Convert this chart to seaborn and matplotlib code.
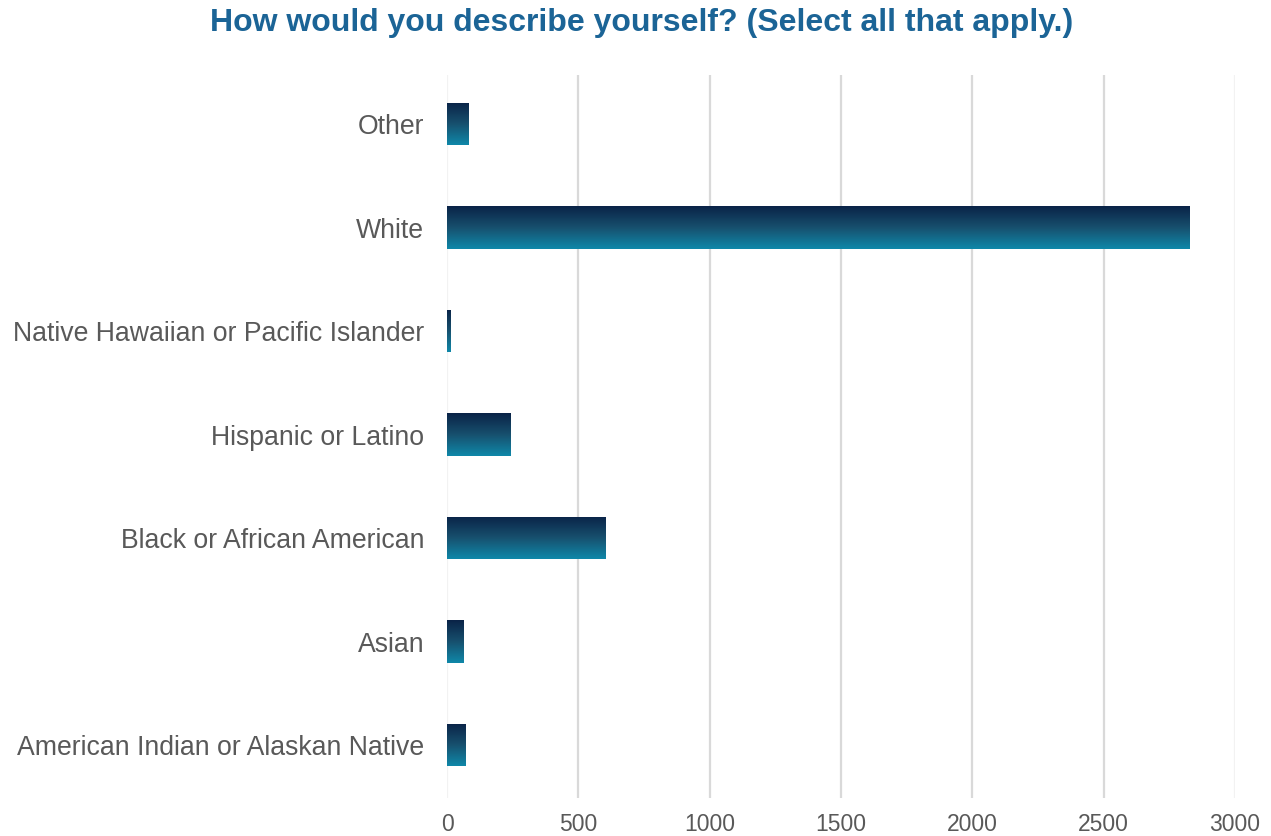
import numpy as np
import pandas as pd
import matplotlib
matplotlib.use("Agg")
import matplotlib.pyplot as plt
from matplotlib.colors import LinearSegmentedColormap
import seaborn as sns

categories = [
    "Other",
    "White",
    "Native Hawaiian or Pacific Islander",
    "Hispanic or Latino",
    "Black or African American",
    "Asian",
    "American Indian or Alaskan Native",
]
counts = [80, 2825, 15, 240, 602, 61, 69]
x_ticks = [0, 500, 1000, 1500, 2000, 2500, 3000]
title = "How would you describe yourself? (Select all that apply.)"

df = pd.DataFrame({"category": categories, "count": counts})

sns.set_theme(style="white")
plt.rcParams["font.family"] = ["Liberation Sans", "DejaVu Sans"]

fig = plt.figure(figsize=(12.71, 8.36), dpi=100)
ax = fig.add_axes([447 / 1271, 1 - 798 / 836, (1235 - 447) / 1271, (798 - 75) / 836])

sns.barplot(data=df, x="count", y="category", order=categories, ax=ax,
            color="#0b3a5e", width=0.41, orient="h", saturation=1)

# vertical gradient fill (navy on top, teal at bottom) clipped to each bar
grad_cmap = LinearSegmentedColormap.from_list("navyteal", ["#0a2347", "#17506e", "#0f88a9"])
grad = np.linspace(0, 1, 256).reshape(-1, 1)
for patch in list(ax.patches):
    x0, y0 = patch.get_x(), patch.get_y()
    w, h = patch.get_width(), patch.get_height()
    patch.set_facecolor("none")
    patch.set_edgecolor("none")
    im = ax.imshow(grad, cmap=grad_cmap, aspect="auto",
                   extent=[x0, x0 + w, y0 + h, y0], origin="upper",
                   interpolation="bilinear", zorder=3)
    im.set_clip_path(patch)

ax.set_xlim(0, 3000)
ax.set_ylim(6.51, -0.475)

# gridlines
for t in x_ticks:
    c = "#f2f2f2" if t in (0, 3000) else "#d9d9d9"
    ax.axvline(t, color=c, lw=1.6, zorder=0)

ax.set_xticks(x_ticks)
ax.set_xticklabels([str(t) for t in x_ticks])
ax.tick_params(axis="x", length=0, pad=11, labelsize=16.5, labelcolor="#595959")
ax.tick_params(axis="y", length=0, pad=16.5, labelsize=19.2, labelcolor="#595959")
ax.set_xlabel("")
ax.set_ylabel("")
for s in ax.spines.values():
    s.set_visible(False)

fig.text(642 / 1271, 1 - 23 / 836, title, ha="center", va="center",
         fontsize=23, fontweight="bold", color="#1b6496")

fig.savefig("out.png", dpi=100, facecolor="white")
